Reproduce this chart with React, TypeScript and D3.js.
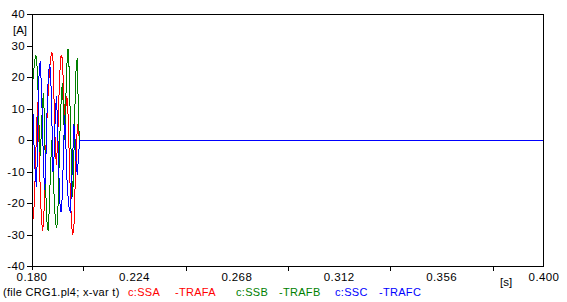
import React, { useEffect, useRef } from "react";
import * as d3 from "d3";

// samples every 0.5 ms starting at 0.180 s, currents in A
const startTime = 0.18;
const sampleStep = 0.0005;
const endTime = 0.4;

const ssaValues = [
	-3, -25, -20, -8, 5, 12, 0, -15, -24, -29, -26, -15, -2, 8, 16, 22, 26, 28,
	26, 12, -2, -8, 0, 12, 22, 27, 26, 18, 5, 10, 14, 8, -5, -18, -27, -30, -28,
	-15, -5, 5, 2, 0,
];
const ssbValues = [
	15, 20, 24, 27, 26, 18, 5, -5, 2, 12, 15, 0, -18, -27, -29, -20, -8, 0, -8,
	-18, -25, -28, -26, -12, 2, 12, 18, 10, 0, 12, 24, 29, 22, 5, -10, -18, -5,
	12, 24, 26, 5, 0,
];
const sscValues = [
	10, 8, -5, -12, -15, 5, 20, 25, 18, 5, -10, -16, -5, 10, 20, 24, 22, 8, -10,
	-5, 8, 14, 5, -10, -20, -23, -18, -5, 8, 0, -12, -18, -22, -23, -15, -5, 5,
	0, -8, -11, -5, 0,
];

const xTicks = [0.18, 0.224, 0.268, 0.312, 0.356, 0.4];
const xMinorTicks = [0.202, 0.246, 0.29, 0.334, 0.378];
const yTicks = [-40, -30, -20, -10, 0, 10, 20, 30, 40];

const seriesList = [
	{ name: "SSA", values: ssaValues, color: "#ff0000" },
	{ name: "SSB", values: ssbValues, color: "#008000" },
	{ name: "SSC", values: sscValues, color: "#0000ff" },
];

const legendItems = [
	{ text: "(file CRG1.pl4; x-var t)", color: "#000000", x: 3 },
	{ text: "c:SSA", color: "#ff0000", x: 128 },
	{ text: "-TRAFA", color: "#ff0000", x: 175 },
	{ text: "c:SSB", color: "#008000", x: 236 },
	{ text: "-TRAFB", color: "#008000", x: 279 },
	{ text: "c:SSC", color: "#0000ff", x: 335 },
	{ text: "-TRAFC", color: "#0000ff", x: 379 },
];

const width = 567;
const height = 302;

const App: React.FC = () => {
	const chartRef = useRef<SVGSVGElement | null>(null);

	useEffect(() => {
		if (!chartRef.current) return;
		document.body.style.margin = "0";

		const margin = { top: 14, right: 23, bottom: 36, left: 32 };
		const font = "'Liberation Sans', Arial, sans-serif";

		const svg = d3.select(chartRef.current);

		const xScale = d3
			.scaleLinear()
			.domain([startTime, endTime])
			.range([margin.left, width - margin.right]);
		const yScale = d3
			.scaleLinear()
			.domain([-40, 40])
			.range([height - margin.bottom, margin.top]);

		const line = d3
			.line<[number, number]>()
			.x((d) => xScale(d[0]))
			.y((d) => yScale(d[1]));

		seriesList.forEach((s) => {
			const pts: [number, number][] = s.values.map((v, i) => [
				startTime + i * sampleStep,
				v,
			]);
			pts.push([endTime, 0]);
			svg.append("path")
				.attr("d", line(pts))
				.attr("fill", "none")
				.attr("stroke", s.color)
				.attr("stroke-width", 1)
				.attr("shape-rendering", "crispEdges");
		});

		// frame
		svg.append("rect")
			.attr("x", margin.left + 0.5)
			.attr("y", margin.top + 0.5)
			.attr("width", width - margin.left - margin.right - 1)
			.attr("height", height - margin.top - margin.bottom)
			.attr("fill", "none")
			.attr("stroke", "#000")
			.attr("shape-rendering", "crispEdges");

		const bottom = height - margin.bottom;

		svg.selectAll(".xminor")
			.data(xMinorTicks)
			.enter()
			.append("line")
			.attr("x1", (d) => Math.round(xScale(d)) + 0.5)
			.attr("x2", (d) => Math.round(xScale(d)) + 0.5)
			.attr("y1", bottom)
			.attr("y2", bottom + 5)
			.attr("stroke", "#000")
			.attr("shape-rendering", "crispEdges");

		svg.append("line")
			.attr("x1", margin.left + 0.5)
			.attr("x2", margin.left + 0.5)
			.attr("y1", bottom)
			.attr("y2", bottom + 4)
			.attr("stroke", "#000");

		svg.selectAll(".xlabel")
			.data(xTicks)
			.enter()
			.append("text")
			.attr("x", (d) => xScale(d))
			.attr("y", bottom + 15)
			.attr("text-anchor", "middle")
			.attr("font-family", font)
			.attr("font-size", 11.5)
			.attr("letter-spacing", 0.4)
			.attr("fill", "#000")
			.text((d) => d.toFixed(3));

		svg.append("text")
			.attr("x", 500)
			.attr("y", bottom + 20)
			.attr("font-family", font)
			.attr("font-size", 11.5)
			.text("[s]");

		svg.selectAll(".ytick")
			.data(yTicks)
			.enter()
			.append("line")
			.attr("x1", margin.left - 5)
			.attr("x2", margin.left)
			.attr("y1", (d) => Math.round(yScale(d)) + 0.5)
			.attr("y2", (d) => Math.round(yScale(d)) + 0.5)
			.attr("stroke", "#000")
			.attr("shape-rendering", "crispEdges");

		svg.selectAll(".ylabel")
			.data(yTicks)
			.enter()
			.append("text")
			.attr("x", margin.left - 7)
			.attr("y", (d) => yScale(d) + 4)
			.attr("text-anchor", "end")
			.attr("font-family", font)
			.attr("font-size", 11.5)
			.attr("letter-spacing", 0.4)
			.text((d) => d);

		svg.append("text")
			.attr("x", 13)
			.attr("y", 34)
			.attr("font-family", font)
			.attr("font-size", 11.5)
			.text("[A]");

		svg.selectAll(".legend")
			.data(legendItems)
			.enter()
			.append("text")
			.attr("x", (d) => d.x)
			.attr("y", 296)
			.attr("font-family", font)
			.attr("font-size", 11)
			.attr("letter-spacing", 0.3)
			.attr("fill", (d) => d.color)
			.text((d) => d.text);

		return () => {
			svg.selectAll("*").remove();
		};
	}, []);

	return (
		<svg
			ref={chartRef}
			width={width}
			height={height}
			style={{ display: "block", background: "#fff" }}
		/>
	);
};

export default App;
